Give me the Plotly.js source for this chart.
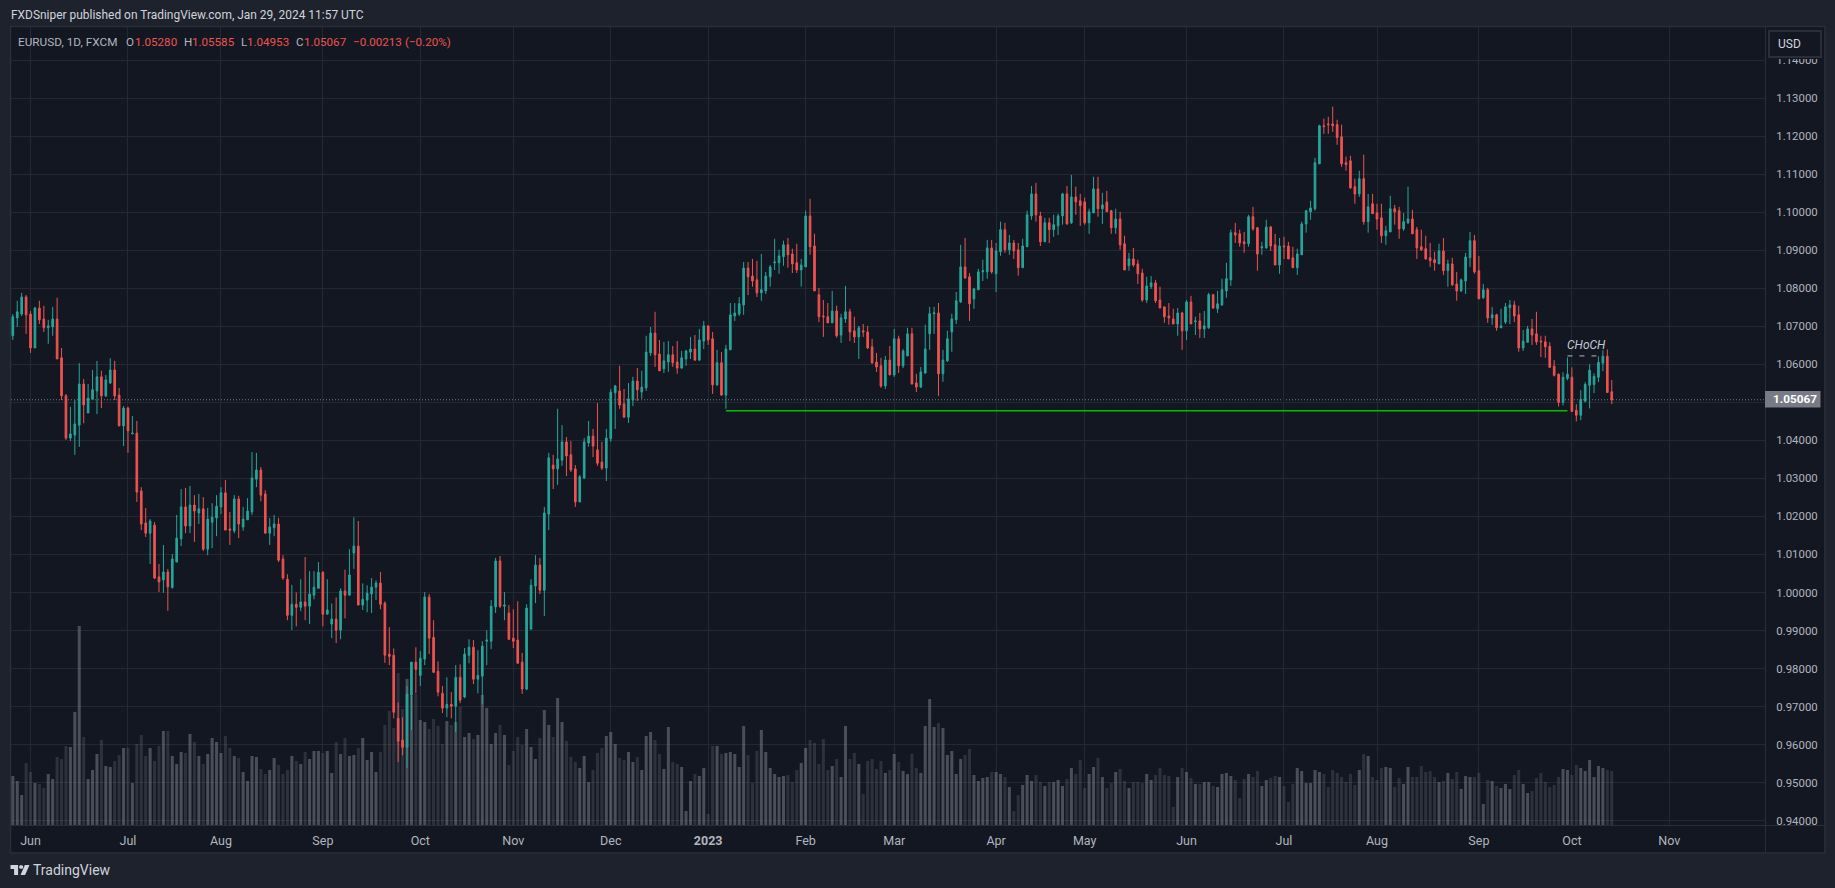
<!DOCTYPE html>
<html><head><meta charset="utf-8">
<script src="https://cdn.plot.ly/plotly-3.0.1.min.js"></script>
<style>html,body{margin:0;padding:0;background:#1e222d;overflow:hidden}</style>
</head><body><div id="chart" style="width:1835px;height:888px"></div>
<script>
const opens=[1.0675,1.0722,1.0732,1.0777,1.0732,1.0643,1.0748,1.0719,1.0696,1.0698,
1.0719,1.0617,1.0517,1.0406,1.0414,1.0440,1.0548,1.0472,1.0508,1.0530,
1.0567,1.0517,1.0551,1.0585,1.0519,1.0438,1.0485,1.0417,1.0419,1.0267,
1.0183,1.0156,1.0177,1.0041,1.0033,1.0054,1.0013,1.0080,1.0141,1.0225,
1.0175,1.0230,1.0209,1.0220,1.0114,1.0185,1.0196,1.0225,1.0262,1.0167,
1.0162,1.0246,1.0172,1.0191,1.0212,1.0298,1.0322,1.0259,1.0156,1.0170,
1.0180,1.0088,1.0035,.9940,.9969,.9961,.9975,.9964,.9993,1.0011,
1.0053,.9943,.9917,.9930,.9901,1.0004,.9993,1.0104,1.0122,.9967,
.9980,.9996,1.0014,1.0025,.9972,.9838,.9835,.9669,.9612,.9593,
.9730,.9817,.9782,.9825,.9988,.9882,.9793,.9735,.9696,.9706,
.9701,.9777,.9725,.9835,.9856,.9772,.9780,.9872,.9872,.9962,
1.0083,.9964,.9946,.9880,.9875,.9817,.9746,.9904,1.0017,1.0072,
1.0006,1.0206,1.0335,1.0325,1.0348,1.0396,1.0362,1.0325,1.0238,1.0301,
1.0393,1.0411,1.0375,1.0343,1.0327,1.0404,1.0525,1.0530,1.0496,1.0461,
1.0506,1.0556,1.0527,1.0538,1.0630,1.0682,1.0627,1.0588,1.0606,1.0625,
1.0606,1.0590,1.0614,1.0632,1.0640,1.0611,1.0661,1.0701,1.0667,1.0546,
1.0604,1.0519,1.0638,1.0727,1.0732,1.0756,1.0853,1.0832,1.0822,1.0788,
1.0793,1.0830,1.0867,1.0867,1.0883,1.0914,1.0890,1.0867,1.0848,1.0856,
1.0990,1.0911,1.0783,1.0727,1.0725,1.0709,1.0740,1.0677,1.0719,1.0738,
1.0688,1.0672,1.0688,1.0685,1.0646,1.0606,1.0596,1.0543,1.0611,1.0572,
1.0667,1.0596,1.0622,1.0680,1.0551,1.0540,1.0577,1.0680,1.0733,1.0735,
1.0575,1.0609,1.0685,1.0717,1.0764,1.0856,1.0830,1.0772,1.0796,1.0843,
1.0843,1.0906,1.0838,1.0896,1.0954,1.0901,1.0919,1.0901,1.0854,1.0909,
1.0990,1.1048,1.0990,1.0922,1.0972,1.0954,1.0964,1.0990,1.1048,1.0972,
1.1040,1.1030,1.1027,1.0972,1.0998,1.1061,1.1009,1.1027,1.1004,1.0959,
1.0982,1.0917,1.0859,1.0877,1.0864,1.0840,1.0769,1.0804,1.0814,1.0769,
1.0751,1.0727,1.0719,1.0706,1.0735,1.0688,1.0764,1.0712,1.0714,1.0693,
1.0696,1.0783,1.0746,1.0756,1.0793,1.0822,1.0946,1.0943,1.0922,1.0917,
1.0988,1.0959,1.0906,1.0906,1.0961,1.0914,1.0861,1.0911,1.0911,1.0880,
1.0854,1.0888,1.0969,1.1001,1.1009,1.1127,1.1227,1.1232,1.1232,1.1230,
1.1198,1.1130,1.1135,1.1067,1.1048,1.1088,1.0975,1.1022,1.0998,1.0985,
1.0938,1.0948,1.1009,1.1004,1.0956,1.0972,1.0982,1.0954,1.0909,1.0904,
1.0880,1.0875,1.0864,1.0898,1.0846,1.0864,1.0811,1.0793,1.0819,1.0880,
1.0925,1.0846,1.0775,1.0796,1.0722,1.0730,1.0696,1.0711,1.0749,1.0756,
1.0730,1.0643,1.0658,1.0693,1.0680,1.0661,1.0659,1.0647,1.0595,1.0574,
1.0500,1.0563,1.0566,1.0479,1.0466,1.0503,1.0545,1.0547,1.0566,1.0603,
1.0621,1.05280];
const highs=[1.0732,1.0767,1.0788,1.0782,1.0740,1.0751,1.0767,1.0754,1.0717,1.0751,
1.0775,1.0643,1.0522,1.0488,1.0506,1.0603,1.0561,1.0548,1.0585,1.0609,
1.0583,1.0572,1.0616,1.0609,1.0538,1.0490,1.0488,1.0464,1.0451,1.0277,
1.0222,1.0193,1.0185,1.0075,1.0125,1.0062,1.0101,1.0204,1.0272,1.0275,
1.0280,1.0256,1.0259,1.0251,1.0222,1.0235,1.0256,1.0277,1.0296,1.0212,
1.0256,1.0254,1.0225,1.0248,1.0369,1.0367,1.0330,1.0269,1.0196,1.0204,
1.0196,1.0098,1.0048,1.0020,1.0000,1.0035,1.0093,1.0056,1.0056,1.0080,
1.0056,1.0035,.9971,.9987,1.0011,1.0060,1.0114,1.0198,1.0188,1.0024,
1.0019,1.0038,1.0032,1.0054,.9977,.9909,.9853,.9711,.9672,.9754,
.9817,.9856,.9846,1.0001,.9996,.9927,.9819,.9754,.9777,.9738,
.9809,.9811,.9854,.9877,.9875,.9848,.9872,.9901,.9980,1.0091,
1.0096,1.0001,.9967,.9956,.9977,.9841,.9969,1.0035,1.0098,1.0091,
1.0225,1.0367,1.0362,1.0483,1.0440,1.0409,1.0398,1.0335,1.0309,1.0406,
1.0451,1.0430,1.0498,1.0396,1.0430,1.0535,1.0546,1.0596,1.0535,1.0551,
1.0567,1.0590,1.0583,1.0675,1.0698,1.0738,1.0664,1.0659,1.0661,1.0648,
1.0661,1.0635,1.0638,1.0672,1.0677,1.0693,1.0714,1.0701,1.0685,1.0638,
1.0632,1.0651,1.0761,1.0761,1.0777,1.0869,1.0869,1.0877,1.0872,1.0890,
1.0843,1.0861,1.0930,1.0901,1.0925,1.0932,1.0904,1.0917,1.0877,1.1004,
1.1035,1.0943,1.0801,1.0769,1.0761,1.0793,1.0754,1.0733,1.0806,1.0746,
1.0725,1.0701,1.0706,1.0701,1.0667,1.0630,1.0617,1.0622,1.0648,1.0693,
1.0675,1.0640,1.0696,1.0696,1.0575,1.0593,1.0704,1.0751,1.0751,1.0761,
1.0638,1.0688,1.0733,1.0790,1.0914,1.0932,1.0840,1.0801,1.0851,1.0875,
1.0927,1.0927,1.0919,1.0975,1.0972,1.0940,1.0927,1.0919,1.0930,1.1004,
1.1069,1.1077,1.1001,1.0985,1.0985,1.0993,1.0996,1.1051,1.1069,1.1098,
1.1067,1.1048,1.1038,1.1009,1.1093,1.1093,1.1051,1.1056,1.1006,1.1009,
1.1001,1.0938,1.0893,1.0906,1.0875,1.0851,1.0830,1.0832,1.0822,1.0804,
1.0751,1.0761,1.0746,1.0748,1.0738,1.0769,1.0780,1.0725,1.0735,1.0740,
1.0788,1.0785,1.0793,1.0825,1.0867,1.0954,1.0972,1.0954,1.0948,1.0993,
1.1014,1.0961,1.0922,1.0980,1.0964,1.0943,1.0932,1.0935,1.0922,1.0909,
1.0904,1.0975,1.1004,1.1030,1.1143,1.1230,1.1246,1.1251,1.1277,1.1243,
1.1230,1.1146,1.1148,1.1088,1.1109,1.1151,1.1048,1.1048,1.1022,1.1022,
1.0964,1.1043,1.1019,1.1014,1.0998,1.1067,1.1006,1.0961,1.0954,1.0938,
1.0919,1.0896,1.0917,1.0932,1.0875,1.0880,1.0843,1.0825,1.0893,1.0948,
1.0940,1.0885,1.0811,1.0801,1.0751,1.0733,1.0746,1.0761,1.0769,1.0767,
1.0754,1.0690,1.0701,1.0719,1.0738,1.0675,1.0675,1.0658,1.0611,1.0576,
1.0579,1.0618,1.0592,1.0495,1.0532,1.0553,1.0600,1.0576,1.0621,1.0637,
1.0639,1.05585];
const lows=[1.0664,1.0698,1.0727,1.0680,1.0630,1.0643,1.0706,1.0685,1.0654,1.0675,
1.0614,1.0506,1.0401,1.0398,1.0362,1.0383,1.0445,1.0472,1.0508,1.0469,
1.0485,1.0514,1.0548,1.0506,1.0438,1.0385,1.0367,1.0417,1.0238,1.0164,
1.0146,1.0075,1.0035,1.0001,.9999,.9952,1.0010,1.0080,1.0122,1.0156,
1.0156,1.0133,1.0180,1.0109,1.0098,1.0117,1.0148,1.0206,1.0164,1.0125,
1.0156,1.0143,1.0162,1.0191,1.0204,1.0277,1.0240,1.0156,1.0125,1.0148,
1.0080,1.0033,.9927,.9901,.9911,.9951,.9927,.9917,.9982,1.0011,
.9911,.9943,.9880,.9867,.9877,.9932,.9993,1.0062,.9967,.9954,
.9948,.9946,.9980,.9956,.9815,.9809,.9669,.9554,.9572,.9538,
.9638,.9735,.9754,.9809,.9838,.9790,.9727,.9683,.9672,.9669,
.9633,.9709,.9722,.9814,.9759,.9735,.9706,.9809,.9851,.9946,
.9959,.9927,.9875,.9854,.9814,.9733,.9743,.9901,.9972,.9996,
.9938,1.0164,1.0272,1.0283,1.0333,1.0306,1.0317,1.0225,1.0238,1.0298,
1.0383,1.0356,1.0333,1.0322,1.0293,1.0396,1.0430,1.0483,1.0461,1.0446,
1.0490,1.0504,1.0509,1.0530,1.0622,1.0593,1.0583,1.0577,1.0580,1.0593,
1.0575,1.0588,1.0596,1.0614,1.0609,1.0609,1.0640,1.0651,1.0522,1.0543,
1.0517,1.0483,1.0638,1.0714,1.0727,1.0730,1.0782,1.0804,1.0777,1.0767,
1.0785,1.0804,1.0848,1.0838,1.0859,1.0854,1.0840,1.0840,1.0804,1.0856,
1.0888,1.0793,1.0711,1.0672,1.0709,1.0709,1.0670,1.0656,1.0709,1.0661,
1.0656,1.0614,1.0672,1.0640,1.0601,1.0580,1.0538,1.0535,1.0572,1.0567,
1.0577,1.0590,1.0622,1.0548,1.0527,1.0538,1.0575,1.0638,1.0680,1.0517,
1.0554,1.0606,1.0633,1.0706,1.0761,1.0825,1.0714,1.0746,1.0796,1.0819,
1.0825,1.0838,1.0790,1.0885,1.0893,1.0888,1.0877,1.0833,1.0854,1.0909,
1.0980,1.0975,1.0911,1.0922,1.0919,1.0935,1.0940,1.0967,1.0967,1.0969,
1.0993,1.0964,1.0967,1.0943,1.0998,1.0988,1.0969,1.1001,1.0943,1.0943,
1.0901,1.0848,1.0846,1.0856,1.0811,1.0764,1.0761,1.0798,1.0761,1.0748,
1.0709,1.0704,1.0706,1.0675,1.0638,1.0664,1.0706,1.0677,1.0669,1.0669,
1.0693,1.0746,1.0735,1.0754,1.0775,1.0806,1.0919,1.0909,1.0893,1.0909,
1.0951,1.0846,1.0888,1.0904,1.0898,1.0861,1.0838,1.0877,1.0877,1.0854,
1.0835,1.0888,1.0946,1.0980,1.1004,1.1127,1.1206,1.1206,1.1211,1.1177,
1.1119,1.1109,1.1061,1.1022,1.1040,1.0967,1.0946,1.0996,1.0954,1.0919,
1.0914,1.0948,1.0967,1.0930,1.0951,1.0969,1.0943,1.0877,1.0898,1.0875,
1.0856,1.0846,1.0864,1.0835,1.0804,1.0806,1.0767,1.0790,1.0785,1.0856,
1.0838,1.0772,1.0772,1.0709,1.0704,1.0688,1.0696,1.0706,1.0706,1.0711,
1.0633,1.0635,1.0656,1.0651,1.0651,1.0619,1.0617,1.0592,1.0568,1.0489,
1.0492,1.0558,1.0476,1.0450,1.0453,1.0500,1.0484,1.0524,1.0553,1.0582,
1.0526,1.04953];
const closes=[1.0725,1.0738,1.0777,1.0730,1.0643,1.0748,1.0717,1.0696,1.0701,1.0719,
1.0614,1.0517,1.0406,1.0417,1.0443,1.0548,1.0493,1.0511,1.0533,1.0567,
1.0517,1.0559,1.0585,1.0517,1.0438,1.0485,1.0425,1.0419,1.0264,1.0180,
1.0156,1.0188,1.0038,1.0028,1.0054,1.0015,1.0088,1.0143,1.0225,1.0175,
1.0230,1.0214,1.0220,1.0114,1.0193,1.0198,1.0227,1.0262,1.0164,1.0164,
1.0246,1.0180,1.0193,1.0214,1.0301,1.0322,1.0256,1.0156,1.0172,1.0180,
1.0085,1.0038,.9940,.9969,.9961,.9975,.9964,.9996,1.0014,1.0053,
.9943,.9954,.9930,.9901,1.0004,.9993,1.0046,1.0122,.9967,.9982,
.9998,1.0014,1.0025,.9969,.9835,.9832,.9685,.9609,.9593,.9733,
.9817,.9798,.9827,.9988,.9880,.9790,.9738,.9696,.9706,.9701,
.9777,.9717,.9838,.9856,.9772,.9782,.9859,.9875,.9964,1.0083,
.9964,.9967,.9877,.9872,.9814,.9746,.9959,1.0019,1.0072,1.0006,
1.0209,1.0354,1.0325,1.0351,1.0396,1.0359,1.0322,1.0238,1.0304,1.0396,
1.0411,1.0385,1.0340,1.0327,1.0406,1.0527,1.0543,1.0493,1.0461,1.0509,
1.0556,1.0533,1.0540,1.0632,1.0682,1.0625,1.0583,1.0609,1.0625,1.0604,
1.0590,1.0617,1.0635,1.0640,1.0611,1.0664,1.0701,1.0664,1.0546,1.0604,
1.0519,1.0640,1.0730,1.0735,1.0759,1.0853,1.0830,1.0819,1.0788,1.0796,
1.0832,1.0856,1.0869,1.0885,1.0914,1.0888,1.0864,1.0848,1.0861,1.0990,
1.0909,1.0793,1.0725,1.0725,1.0709,1.0740,1.0675,1.0722,1.0738,1.0685,
1.0672,1.0696,1.0685,1.0643,1.0604,1.0593,1.0543,1.0611,1.0572,1.0667,
1.0596,1.0635,1.0680,1.0548,1.0540,1.0580,1.0640,1.0733,1.0735,1.0575,
1.0611,1.0667,1.0719,1.0767,1.0856,1.0827,1.0759,1.0798,1.0843,1.0846,
1.0906,1.0843,1.0898,1.0954,1.0901,1.0919,1.0898,1.0854,1.0911,1.0993,
1.1048,1.0993,1.0922,1.0972,1.0954,1.0967,1.0990,1.1048,1.0969,1.1040,
1.1027,1.1017,1.0972,1.1001,1.1061,1.1009,1.1019,1.1001,1.0959,1.0982,
1.0914,1.0848,1.0877,1.0861,1.0838,1.0769,1.0806,1.0814,1.0767,1.0748,
1.0725,1.0722,1.0706,1.0735,1.0688,1.0764,1.0706,1.0714,1.0693,1.0701,
1.0783,1.0748,1.0759,1.0796,1.0825,1.0946,1.0940,1.0919,1.0917,1.0988,
1.0956,1.0890,1.0909,1.0961,1.0911,1.0861,1.0911,1.0909,1.0877,1.0854,
1.0890,1.0969,1.1004,1.1011,1.1130,1.1227,1.1225,1.1230,1.1227,1.1196,
1.1127,1.1125,1.1064,1.1048,1.1088,1.0975,1.1014,1.0996,1.0982,1.0938,
1.0951,1.1009,1.1001,1.0956,1.0975,1.0982,1.0943,1.0906,1.0901,1.0877,
1.0872,1.0867,1.0898,1.0846,1.0864,1.0809,1.0793,1.0822,1.0882,1.0925,
1.0843,1.0772,1.0796,1.0722,1.0730,1.0696,1.0701,1.0751,1.0756,1.0727,
1.0643,1.0661,1.0693,1.0677,1.0659,1.0659,1.0646,1.0592,1.0571,1.0500,
1.0566,1.0574,1.0476,1.0466,1.0508,1.0547,1.0584,1.0568,1.0605,1.0621,
1.0526,1.05067];
const volumes=[147,132,90,186,159,126,123,111,153,138,
204,198,237,234,339,597,264,138,165,213,
255,177,174,192,210,231,231,126,243,270,
207,231,192,237,282,282,207,183,219,216,
273,249,207,183,213,261,249,216,267,231,
207,201,159,132,207,204,168,153,165,201,
180,153,165,207,192,183,219,198,222,222,
216,222,156,249,213,261,207,210,231,261,
195,219,159,219,300,342,291,456,348,
438,387,393,315,309,288,318,297,243,312,
300,309,354,264,276,258,270,390,351,243,
276,300,270,180,222,264,240,288,234,198,
261,345,300,264,381,309,252,204,189,171,
207,129,165,216,231,267,279,243,201,195,
219,189,204,165,267,279,255,213,168,294,
189,183,174,42,132,153,147,171,33,237,
237,213,216,219,213,174,297,210,126,222,
285,219,171,153,144,147,150,129,165,186,
231,255,246,183,258,165,177,198,144,297,
198,216,183,93,192,198,168,192,156,165,
213,189,
162,153,213,171,156,297,378,294,306,291,
210,222,153,198,210,228,150,132,141,144,
159,159,153,144,114,42,90,120,150,132,
150,129,117,129,129,135,117,138,171,153,
195,111,153,174,201,144,111,126,159,168,
132,111,129,129,126,153,135,150,171,150,147,
54,144,171,159,141,123,123,129,129,117,
114,153,156,147,135,81,138,153,144,162,
117,135,141,147,144,117,69,123,171,162,
126,126,165,159,153,114,165,156,144,129,
153,120,165,213,207,144,135,171,174,171,
114,141,123,174,144,144,177,159,162,144,129,
132,156,138,159,108,147,144,144,156,63,
135,132,117,111,123,108,150,165,123,96,
102,141,156,129,114,120,144,168,165,150,
180,171,162,195,144,177,171,165,162];
const tickIndex=[4,26,47,70,92,113,135,157,179,199,222,242,265,287,308,331,352,374];
const tickNames=['Jun','Jul','Aug','Sep','Oct','Nov','Dec','<b>2023</b>','Feb','Mar','Apr','May','Jun','Jul','Aug','Sep','Oct','Nov'];
const priceTicks=[0.94,0.95,0.96,0.97,0.98,0.99,1.00,1.01,1.02,1.03,1.04,1.05,1.06,1.07,1.08,1.09,1.10,1.11,1.12,1.13,1.14];
const lastPrice=1.05067, levelPrice=1.0478, levelFrom=161, levelTo=351, chochPrice=1.0622, chochFrom=351, chochTo=359;
const legendTexts=['EURUSD, 1D, FXCM','O','1.05280','H','1.05585','L','1.04953','C','1.05067','−0.00213','(−0.20%)'];
const UP='#26a69a', DOWN='#ef5350', FONT='Roboto';

const W=1835,H=888,L=10.5,R=1765,T=27,B=825;
const px=x=>(x-L)/(R-L), py=y=>(B-y)/(B-T);
const idx=closes.map((_,i)=>i);
const rect=(x0,y0,x1,y1,fill,line,lw,layer)=>({type:'rect',xref:'paper',yref:'paper',x0:px(x0),x1:px(x1),y0:py(y0),y1:py(y1),fillcolor:fill,line:{color:line||'rgba(0,0,0,0)',width:lw||0},layer:layer||'above'});
const path=(pts,fill)=>({type:'path',xref:'paper',yref:'paper',path:'M'+pts.map(p=>px(p[0])+','+py(p[1])).join('L')+'Z',fillcolor:fill,line:{width:0},layer:'above'});
const text=(x,y,t,size,color,extra)=>Object.assign({xref:'paper',yref:'paper',x:px(x),y:py(y),text:t,showarrow:false,xanchor:'left',yanchor:'middle',borderpad:0,borderwidth:0,font:{family:FONT,size:size,color:color}},extra||{});
const legendX=[17.7,126,134.3,183.3,191.7,240.3,247,296,303.7,353,405];
const legendColors=['#b2b5be','#b2b5be','#ef5350','#b2b5be','#ef5350','#b2b5be','#ef5350','#b2b5be','#ef5350','#ef5350','#ef5350'];

const traces=[
 {type:'bar',x:idx,y:volumes,yaxis:'y',xaxis:'x',width:0.68,hoverinfo:'skip',
  marker:{color:closes.map((c,i)=>c>=opens[i]?'rgba(120,123,134,0.55)':'rgba(120,123,134,0.27)'),line:{width:0}}},
 {type:'candlestick',x:idx,open:opens,high:highs,low:lows,close:closes,xaxis:'x',yaxis:'y2',whiskerwidth:0,hoverinfo:'skip',
  increasing:{line:{color:UP,width:1},fillcolor:UP},decreasing:{line:{color:DOWN,width:1},fillcolor:DOWN}}
];
const layout={width:W,height:H,autosize:false,showlegend:false,dragmode:false,boxgap:0.47,bargap:0.32,
 paper_bgcolor:'#1e222d',plot_bgcolor:'#131722',
 margin:{l:L,r:W-R,t:T,b:H-B,pad:0,autoexpand:false},
 xaxis:{type:'linear',range:[-0.41,395.6],tickmode:'array',tickvals:tickIndex,ticktext:tickNames,showgrid:true,gridcolor:'#242832',gridwidth:1,zeroline:false,showline:false,ticks:'outside',ticklen:4,tickcolor:'rgba(0,0,0,0)',tickfont:{family:FONT,size:12.5,color:'#b2b5be'},rangeslider:{visible:false},fixedrange:true},
 yaxis:{range:[0,2394],visible:false,showgrid:false,zeroline:false,fixedrange:true},
 yaxis2:{overlaying:'y',side:'right',range:[0.93887,1.14868],tickmode:'array',tickvals:priceTicks,ticktext:priceTicks.map(v=>v.toFixed(5)),showgrid:true,gridcolor:'#242832',gridwidth:1,zeroline:false,showline:false,ticks:'outside',ticklen:8,tickcolor:'rgba(0,0,0,0)',tickfont:{family:FONT,size:11.4,color:'#b2b5be'},fixedrange:true},
 shapes:[
  rect(10,26.5,1825,853,'#131722','#2a2e39',1.5,'below'),
  {type:'line',xref:'paper',yref:'y2',x0:0,x1:1,y0:lastPrice,y1:lastPrice,line:{color:'#787b86',width:1,dash:'1px,2px'},layer:'below'},
  {type:'line',xref:'x',yref:'y2',x0:levelFrom,x1:levelTo,y0:levelPrice,y1:levelPrice,line:{color:'#00c000',width:1.5}},
  {type:'line',xref:'x',yref:'y2',x0:chochFrom,x1:chochTo,y0:chochPrice,y1:chochPrice,line:{color:'#b2b5be',width:1,dash:'5px,7px'}},
  rect(10,825,1825,826,'#2a2e39'),
  rect(1766,27.5,1824,59,'#131722'),
  rect(1765,27,1766,853,'#2a2e39'),
  rect(1769,31,1821,57,'#131722','#2a2e39',2),
  rect(1765,391,1820.5,407.5,'#787b86'),
  path([[10,865],[17.6,865],[17.6,875],[13.6,875],[13.6,869],[10,869]],'#d1d4dc'),
  path([[21.5,865.2],[22.6,866],[22.6,868],[21.5,868.8],[19.8,868.8],[18.7,868],[18.7,866],[19.8,865.2]],'#d1d4dc'),
  path([[24.4,865],[29,865],[24.6,875],[20,875]],'#d1d4dc')
 ],
 annotations:[
  text(10,15,'FXDSniper published on TradingView.com, Jan 29, 2024 11:57 UTC',11.95,'#d1d4dc')
 ].concat(legendTexts.map((t,i)=>text(legendX[i],41.5,t,i==0?11.8:11.6,legendColors[i])),[
  text(1778,44.5,'USD',12,'#d1d4dc'),
  text(1773,399.5,'<b>'+lastPrice.toFixed(5)+'</b>',11.8,'#ffffff'),
  text(1567,345,'<i>CHoCH</i>',12,'#c3c6ce'),
  text(33,870,'TradingView',14,'#d1d4dc')
 ])
};
Plotly.newPlot('chart',traces,layout,{staticPlot:true,displayModeBar:false});
</script></body></html>
